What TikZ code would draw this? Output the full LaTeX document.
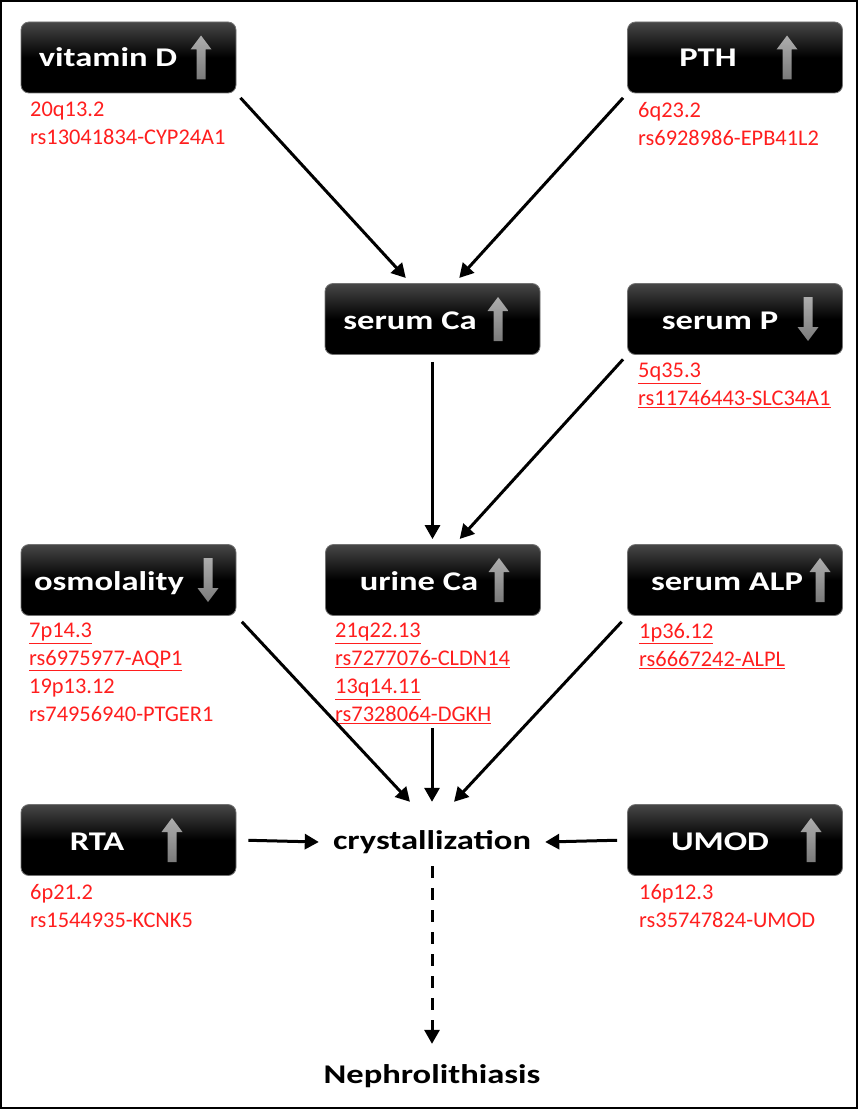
\documentclass[tikz,border=0pt]{standalone}
\usepackage{fontspec}
\setmainfont{Carlito}
\newfontfamily\wideface[FakeStretch=1.28]{Carlito}
\usetikzlibrary{arrows.meta}
\definecolor{genered}{RGB}{255,30,30}
\tikzset{
  box/.style={rounded corners=8pt, draw=black!55, line width=0.8pt,
    top color=black!72, bottom color=black, middle color=black,
    minimum width=215pt, minimum height=71pt, inner sep=0pt},
  boxtxt/.style={text=white, font=\wideface\bfseries\fontsize{27}{30}\selectfont, inner sep=0pt, anchor=base},
  plain/.style={font=\wideface\bfseries\fontsize{27}{30}\selectfont},
  gene/.style={text=genered, font=\fontsize{22.4}{28}\selectfont, align=left, anchor=north west, inner sep=0pt},
  flow/.style={-{Triangle[length=14pt,width=15pt]}, line width=3pt},
  pics/upar/.style={code={
    \shade[top color=black!32, bottom color=black!52]
      (-4.5,22)--(-4.5,-8)--(-10.5,-8)--(0,-22)--(10.5,-8)--(4.5,-8)--(4.5,22)--cycle;}},
  pics/downar/.style={code={
    \shade[top color=black!32, bottom color=black!52]
      (-4.5,-22)--(-4.5,8)--(-10.5,8)--(0,22)--(10.5,8)--(4.5,8)--(4.5,-22)--cycle;}}
}
\begin{document}
\begin{tikzpicture}[x=1pt,y=-1pt]
\useasboundingbox (0,0) rectangle (858,1110);
\draw[line width=1.5pt] (1,1) rectangle (857,1108);
% boxes
\node[box] (vitD) at (128.5,57.5) {};
\node[box] (pth) at (735,57.5) {};
\node[box] (serCa) at (432.5,319) {};
\node[box] (serP) at (735,319) {};
\node[box] (osmo) at (128.5,580) {};
\node[box] (urCa) at (433,580) {};
\node[box] (serALP) at (735,580) {};
\node[box] (rta) at (128.5,840) {};
\node[box] (umod) at (735,840) {};
% box texts
\node[boxtxt] (vitDt) at (108,67) {vitamin D};
\node[boxtxt] (ptht) at (708,67) {PTH};
\node[boxtxt] (serCat) at (410,329) {serum Ca};
\node[boxtxt] (serPt) at (720,329) {serum P};
\node[boxtxt] (osmot) at (109,590) {osmolality};
\node[boxtxt] (urCat) at (419,590) {urine Ca};
\node[boxtxt] (serALPt) at (727,590) {serum ALP};
\node[boxtxt] (rtat) at (97,850) {RTA};
\node[boxtxt] (umodt) at (720,850) {UMOD};
% gray arrows
\pic at (201,57.5) {upar};
\pic at (787,57.5) {upar};
\pic at (498,319) {upar};
\pic at (808,319) {downar};
\pic at (208,580) {downar};
\pic at (499,580) {upar};
\pic at (820,580) {upar};
\pic at (172,840) {upar};
\pic at (811,840) {upar};
% loci
\node[gene] (vitDg) at (30,102) {20q13.2\\rs13041834-CYP24A1};
\node[gene] (pthg) at (638,102) {6q23.2\\rs6928986-EPB41L2};
\node[gene] (serPg) at (638,363) {\underline{5q35.3}\\\underline{rs11746443-SLC34A1}};
\node[gene] (osmog) at (29,623) {\underline{7p14.3}\\\underline{rs6975977-AQP1}\\19p13.12\\rs74956940-PTGER1};
\node[gene] (urCag) at (335,623) {\underline{21q22.13}\\\underline{rs7277076-CLDN14}\\\underline{13q14.11}\\\underline{rs7328064-DGKH}};
\node[gene] (serALPg) at (639,623) {\underline{1p36.12}\\\underline{rs6667242-ALPL}};
\node[gene] (rtag) at (30,884) {6p21.2\\rs1544935-KCNK5};
\node[gene] (umodg) at (639,884) {16p12.3\\rs35747824-UMOD};
% outcome
\node[plain, minimum height=64pt, inner xsep=14pt, inner ysep=0pt] (cryst) at (432,842) {crystallization};
\node[plain, anchor=base, inner xsep=0pt, inner ysep=20pt] (nephro) at (432,1083) {Nephrolithiasis};
% connectors
\draw[flow, shorten <=6pt, shorten >=7pt] (vitD.south east) -- ([xshift=-22pt]serCa.north);
\draw[flow, shorten <=6pt, shorten >=7pt] (pth.south west) -- ([xshift=22pt]serCa.north);
\draw[flow, shorten <=7pt, shorten >=5pt] (serCa.south) -- (serCa.south |- urCa.north);
\draw[flow, shorten <=6pt, shorten >=7pt] (serP.south west) -- ([xshift=22pt]urCa.north);
\draw[flow, shorten <=8pt] (osmo.south east) -- ([xshift=-22pt,yshift=8pt]cryst.north);
\draw[flow, shorten <=4pt] (urCag.south -| cryst.north) -- ([yshift=8pt]cryst.north);
\draw[flow, shorten <=8pt] (serALP.south west) -- ([xshift=22pt,yshift=8pt]cryst.north);
\draw[flow, shorten <=12pt] (rta.east) -- (cryst.west);
\draw[flow, shorten <=10pt] (umod.west) -- (cryst.east);
\draw[flow, dash pattern=on 12pt off 10pt] ([yshift=8pt]cryst.south) -- (nephro.north);
\end{tikzpicture}
\end{document}
